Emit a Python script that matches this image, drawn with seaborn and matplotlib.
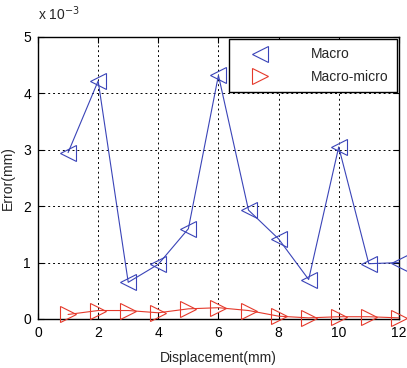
import matplotlib
matplotlib.use("Agg")
import matplotlib.pyplot as plt
from matplotlib.lines import Line2D
import pandas as pd
import seaborn as sns

displacement = [1, 2, 3, 4, 5, 6, 7, 8, 9, 10, 11, 12]
macro_err = [2.95, 4.22, 0.65, 0.97, 1.60, 4.32, 1.93, 1.42, 0.70, 3.05, 0.98, 1.00]
micro_err = [0.08, 0.15, 0.15, 0.11, 0.18, 0.20, 0.15, 0.05, 0.02, 0.04, 0.04, 0.02]
series_names = ["Macro", "Macro-micro"]
scale = 1e-3

df = pd.DataFrame({
    "Displacement": displacement * 2,
    "Error": [v * scale for v in macro_err + micro_err],
    "Series": [series_names[0]] * 12 + [series_names[1]] * 12,
})

sns.set_style("white")
plt.rcParams["font.family"] = ["Liberation Sans", "DejaVu Sans"]

fig = plt.figure(figsize=(4.07, 3.68), dpi=100)
ax = fig.add_axes([0.0934, 0.1332, 0.8866, 0.7663])

blue = "#3a44b8"
red = "#e53a2c"
markers = {"Macro": "<", "Macro-micro": ">"}
colors = {"Macro": blue, "Macro-micro": red}

for name in series_names:
    sub = df[df["Series"] == name]
    sns.lineplot(data=sub, x="Displacement", y="Error", ax=ax, color=colors[name],
                 linewidth=0.8, marker=markers[name], markersize=11,
                 markerfacecolor="none", markeredgecolor=colors[name],
                 markeredgewidth=0.8, legend=False, clip_on=False, zorder=3)

ax.set_xlim(0, 12)
ax.set_ylim(0, 5 * scale)
ax.set_xticks(range(0, 13, 2))
ax.set_yticks([i * scale for i in range(6)])
ax.set_yticklabels([str(i) for i in range(6)])
ax.grid(True, color="black", linestyle=(0, (2, 3)), linewidth=0.7)
for sp in ax.spines.values():
    sp.set_color("black")
    sp.set_linewidth(1.0)
ax.tick_params(direction="in", length=4, width=0.8, labelsize=10, colors="black",
               top=True, right=True, bottom=True, left=True, pad=5)
ax.set_xlabel("Displacement(mm)", fontsize=10, labelpad=8)
ax.set_ylabel("Error(mm)", fontsize=10, labelpad=6)

ax.text(0.0, 1.05, r"x 10$^{-3}$", transform=ax.transAxes, fontsize=10,
        ha="left", va="bottom")

handles = [Line2D([], [], linestyle="none", marker=markers[n], markersize=11,
                  markerfacecolor="none", markeredgecolor=colors[n],
                  markeredgewidth=0.8) for n in series_names]
leg = ax.legend(handles, series_names, loc="upper right", fontsize=10,
                frameon=True, fancybox=False, framealpha=1, edgecolor="black",
                borderaxespad=0.15, handletextpad=2.0, borderpad=0.6,
                labelspacing=0.6, handlelength=3.3)
leg.get_frame().set_linewidth(1.0)
leg.set_zorder(5)

fig.savefig("out.png", dpi=100)
